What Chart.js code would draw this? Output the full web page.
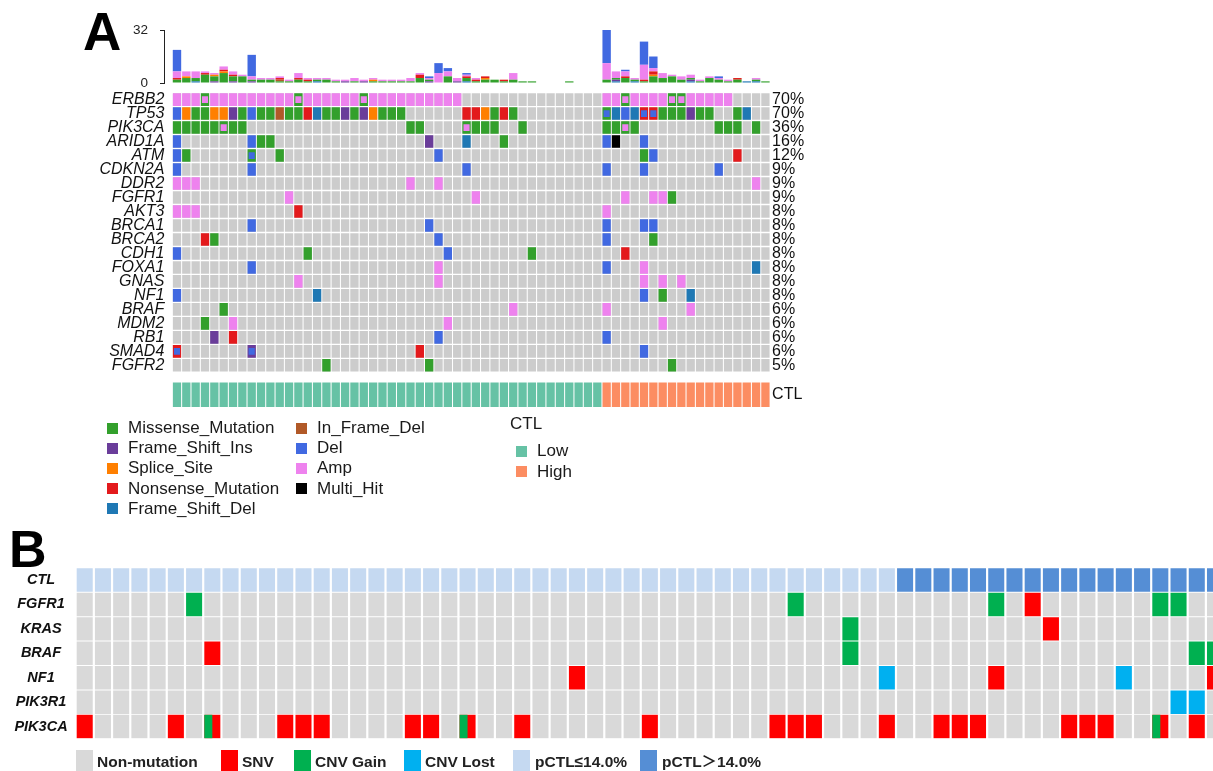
<!DOCTYPE html>
<html><head><meta charset="utf-8">
<script src="https://cdn.jsdelivr.net/npm/chart.js@4.4.1/dist/chart.umd.min.js"></script>
<style>
html,body{margin:0;padding:0;background:#fff;}
body{width:1213px;height:771px;position:relative;overflow:hidden;font-family:"Liberation Sans",Arial,Helvetica,sans-serif;color:#1a1a1a;}
canvas{position:absolute;}
.t{position:absolute;white-space:nowrap;}
.sq{position:absolute;}
</style></head><body>
<div class="t" style="left:83px;top:5px;font-weight:bold;font-size:53px;line-height:53px;color:#000;">A</div>
<div class="t" style="left:9px;top:523px;font-weight:bold;font-size:52px;line-height:52px;color:#000;">B</div>
<canvas id="bar" width="680" height="97" style="left:100px;top:8px;"></canvas>
<canvas id="heatA" width="800" height="350" style="left:40px;top:75px;"></canvas>
<canvas id="heatB" width="1213" height="210" style="left:0px;top:550px;"></canvas>
<div id="legends"></div>
<script>
const FONT = "'Liberation Sans', Arial, Helvetica, sans-serif";
Chart.defaults.font.family = FONT;

// ---------------- Panel A data ----------------
const samplesA = [...Array(64).keys()]; // sample positions
const genesA = ["ERBB2","TP53","PIK3CA","ARID1A","ATM","CDKN2A","DDR2","FGFR1","AKT3","BRCA1",
                "BRCA2","CDH1","FOXA1","GNAS","NF1","BRAF","MDM2","RB1","SMAD4","FGFR2"];
const pctA = ["70%","70%","36%","16%","12%","9%","9%","9%","8%","8%",
              "8%","8%","8%","8%","8%","6%","6%","6%","6%","5%"];
// one char per sample: . none, M Missense, I Frame_Shift_Ins, S Splice_Site, N Nonsense,
// F Frame_Shift_Del, B In_Frame_Del, D Del, A Amp, X Multi_Hit,
// m Missense+Amp, e Missense+Del, n Nonsense+Del, i Frame_Shift_Ins+Del
const mutA = [
  "AAAmAAAAAA"+"AAAmAAAAAA"+"mAAAAAAAAA"+"A........."+"......AAmA"+"AAAmmAAAAA"+"....",
  "DSMMSSIMDM"+"MBMMNFMMIM"+"ISMMM....."+".NNSMNM..."+"......eFDF"+"nnMMMIMM.."+"MF..",
  "MMMMMmMM.."+".........."+".....MM..."+".mMMM..M.."+"......MMmM"+"........MM"+"M.M.",
  "D.......DM"+"M........."+".......I.."+".F...M...."+"......DX.."+"D........."+"....",
  "DM......e."+".M........"+"........D."+".........."+".........."+"MD........"+"N...",
  "D.......D."+".........."+".........."+".D........"+"......D..."+"D.......D."+"....",
  "AAA......."+".........."+".....A..A."+".........."+".........."+".........."+"..A.",
  ".........."+"..A......."+".........."+"..A......."+"........A."+".AAM......"+"....",
  "AAA......."+"...N......"+".........."+".........."+"......A..."+".........."+"....",
  "........D."+".........."+".......D.."+".........."+"......D..."+"DD........"+"....",
  "...NM....."+".........."+"........D."+".........."+"......D..."+".M........"+"....",
  "D........."+"....M....."+".........D"+"........M."+"........N."+".........."+"....",
  "........D."+".........."+"........A."+".........."+"......D..."+"A........."+"..F.",
  ".........."+"...A......"+"........A."+".........."+".........."+"A.A.A....."+"....",
  "D........."+".....F...."+".........."+".........."+".........."+"D.M..F...."+"....",
  ".....M...."+".........."+".........."+"......A..."+"......A..."+".....A...."+"....",
  "...M..A..."+".........."+".........A"+".........."+".........."+"..A......."+"....",
  "....I.N..."+".........."+"........D."+".........."+"......D..."+".........."+"....",
  "n.......i."+".........."+"......N..."+".........."+".........."+"D........."+"....",
  ".........."+"......M..."+".......M.."+".........."+".........."+"...M......"+"...."
];
const ctlA = "LLLLLLLLLL"+"LLLLLLLLLL"+"LLLLLLLLLL"+"LLLLLLLLLL"+"LLLLLLHHHH"+"HHHHHHHHHH"+"HHHH";

// per-sample variant counts (top bar plot)
const tmbFSDel     = [0,0,1,0,0,0,0,0,0,0, 0,0,0,0,0,1,0,0,0,0, 0,0,0,0,0,0,0,0,0,0, 0,1,0,0,0,0,0,0,0,0, 0,0,0,0,0,0,0,1,0,1, 0,0,0,0,0,1,0,0,0,0, 0,1,1,0];
const tmbFSIns     = [0,0,0,0,1,0,1,0,1,0, 0,0,0,0,0,0,0,0,1,0, 1,0,0,0,0,0,0,1,0,0, 1,0,0,0,0,0,0,0,0,0, 0,0,0,0,0,0,0,1,0,0, 0,0,0,0,0,1,0,0,0,0, 0,0,0,0];
const tmbMissense  = [2,3,2,5,3,6,3,4,1,2, 2,1,1,2,1,1,2,1,0,1, 0,1,1,1,1,1,3,1,0,4, 0,2,1,2,2,1,2,1,1,0, 0,0,1,0,0,0,2,1,3,1, 1,4,3,4,2,1,1,3,2,1, 2,0,1,1];
const tmbInFrameDel= [0,0,0,0,0,0,0,0,0,0, 0,1,0,0,0,0,0,0,0,0, 0,0,0,0,0,0,0,0,0,0, 0,0,0,0,0,0,0,0,0,0, 0,0,0,0,0,0,0,0,0,0, 0,0,0,0,0,0,0,0,0,0, 0,0,0,0];
const tmbSplice    = [0,1,0,0,1,1,0,0,0,0, 0,0,0,0,0,0,0,0,0,0, 0,1,0,0,0,0,0,0,0,0, 0,0,0,1,0,0,0,0,0,0, 0,0,0,0,0,0,0,0,0,0, 0,1,0,0,0,0,0,0,0,0, 0,0,0,0];
const tmbNonsense  = [1,0,0,1,0,1,1,0,0,0, 0,1,0,1,1,0,0,0,0,0, 0,0,0,0,0,0,2,0,0,0, 0,1,1,1,0,1,0,0,0,0, 0,0,0,0,0,0,0,0,1,0, 1,2,0,0,0,0,0,0,0,0, 1,0,0,0];
const tmbAmp       = [4,3,4,1,1,2,2,1,2,1, 1,1,1,3,1,1,1,1,1,2, 1,1,1,1,1,2,1,1,6,3, 2,1,1,0,0,0,4,0,0,0, 0,0,0,0,0,0,10,4,3,1, 9,2,3,1,2,2,1,1,1,1, 0,0,1,0];
const tmbDel       = [13,0,0,0,0,0,0,0,13,0, 0,0,0,0,0,0,0,0,0,0, 0,0,0,0,0,0,0,1,6,2, 0,1,0,0,0,0,0,0,0,0, 0,0,0,0,0,0,20,0,1,0, 14,7,0,0,0,0,0,0,1,0, 0,0,0,0];
const tmbTicks = [0, 32];

const colorA = {Missense:'#33A02C', FSIns:'#6A3D9A', Splice:'#FF7F00', Nonsense:'#E31A1C',
  FSDel:'#1F78B4', InFrameDel:'#B15928', Del:'#4169E1', Amp:'#EE82EE', MultiHit:'#000000'};
const codeA = {M:['Missense'], I:['FSIns'], S:['Splice'], N:['Nonsense'], F:['FSDel'], B:['InFrameDel'],
  D:['Del'], A:['Amp'], X:['MultiHit'], m:['Missense','Amp'], e:['Missense','Del'], n:['Nonsense','Del'], i:['FSIns','Del']};
const ctlColorA = {L:'#66C2A5', H:'#FC8D62'};

// ---------------- Panel B data ----------------
const samplesB = [...Array(63).keys()];
const rowsB = ["CTL","FGFR1","KRAS","BRAF","NF1","PIK3R1","PIK3CA"];
const ctlB = "LLLLLLLLLL"+"LLLLLLLLLL"+"LLLLLLLLLL"+"LLLLLLLLLL"+"LLLLLHHHHH"+"HHHHHHHHHH"+"HHH";
// . none, S SNV, G CNV Gain, L CNV Lost, C CNV Gain + SNV
const mutB = [
  "......G..."+".........."+".........."+".........G"+".........."+"G.S......G"+"G..",
  ".........."+".........."+".........."+".........."+"..G......."+"...S......"+"...",
  ".......S.."+".........."+".........."+".........."+"..G......."+".........."+".GG",
  ".........."+".........."+".......S.."+".........."+"....L....."+"S......L.."+"..S",
  ".........."+".........."+".........."+".........."+".........."+".........."+"LL.",
  "S....S.C.."+".SSS....SS"+".C..S....."+".S......SS"+"S...S..SSS"+"....SSS..C"+".S."
];
const colorB = {none:'#D9D9D9', SNV:'#FF0000', Gain:'#00B050', Lost:'#00B0F0', ctlLow:'#C5D9F1', ctlHigh:'#558ED5'};

// ---------------- common ----------------
const base = {animation:false, responsive:false, events:[], plugins:{legend:{display:false}, tooltip:{enabled:false}}};
const intTicks = arr => (s => { s.ticks = arr.map(v => ({value:v})); });

// ---------------- Chart 1: bar plot ----------------
const tmbSeries = [
  ['FSDel', tmbFSDel], ['FSIns', tmbFSIns], ['Missense', tmbMissense], ['InFrameDel', tmbInFrameDel],
  ['Splice', tmbSplice], ['Nonsense', tmbNonsense], ['Amp', tmbAmp], ['Del', tmbDel]
];
new Chart(document.getElementById('bar'), {
  type:'bar',
  data:{datasets: tmbSeries.map(([cls, arr]) => ({
    label: cls, backgroundColor: colorA[cls],
    data: samplesA.filter(i => arr[i] > 0).map(i => ({x:i, y:arr[i]}))
  }))},
  options:Object.assign({}, base, {
    layout:{padding:{top:22, bottom:22, right:9.9, left:0}},
    datasets:{bar:{barPercentage:0.9, categoryPercentage:1}},
    scales:{
      x:{type:'linear', offset:false, stacked:true, min:-1.39, max:63.5, display:false, afterBuildTicks:intTicks(samplesA)},
      y:{type:'linear', stacked:true, min:0, max:32, afterBuildTicks:intTicks(tmbTicks),
         afterFit:s=>{s.width=64;},
         grid:{display:true, drawOnChartArea:false, drawTicks:true, tickLength:4, color:'#222', lineWidth:1},
         border:{display:true, color:'#222', width:1},
         ticks:{font:{size:13.5}, color:'#222', padding:12, autoSkip:false}}
    }
  })
});

// ---------------- Chart 2: heatmap A ----------------
const cellA = (x, r, h) => ({x:x, y:[r - h, r + h]});
const dsA = [];
const bgA = [];
genesA.forEach((g, r) => samplesA.forEach(c => bgA.push(cellA(c, r, 0.45))));
dsA.push({data:bgA, backgroundColor:'#CCCCCC', order:3});
Object.keys(colorA).forEach(cls => {
  const outer = [], inner = [];
  mutA.forEach((s, r) => {
    for (let c = 0; c < s.length; c++) {
      const k = codeA[s[c]];
      if (!k) continue;
      if (k[0] === cls) outer.push(cellA(c, r, 0.45));
      if (k[1] === cls) inner.push(cellA(c, r, 0.24));
    }
  });
  if (outer.length) dsA.push({data:outer, backgroundColor:colorA[cls], order:2});
  if (inner.length) dsA.push({data:inner, backgroundColor:colorA[cls], order:1, barPercentage:0.66});
});
const ctlRowA = [20.22, 21.98];
['L','H'].forEach(k => {
  const d = [];
  for (let c = 0; c < ctlA.length; c++) if (ctlA[c] === k) d.push({x:c, y:ctlRowA.slice()});
  dsA.push({data:d, backgroundColor:ctlColorA[k], order:2});
});
const ctlLabelPosA = 21.1;
new Chart(document.getElementById('heatA'), {
  type:'bar',
  data:{datasets:dsA},
  options:Object.assign({}, base, {
    layout:{padding:{top:17, bottom:18, left:0, right:0}},
    datasets:{bar:{grouped:false, barPercentage:0.89, categoryPercentage:1}},
    scales:{
      x:{type:'linear', offset:false, min:-0.5, max:63.5, display:false, afterBuildTicks:intTicks(samplesA)},
      y:{type:'linear', reverse:true, min:-0.5, max:21.98, afterBuildTicks:intTicks(genesA.map((g,i)=>i)),
         afterFit:s=>{s.width=132.3;},
         grid:{display:false, drawTicks:false}, border:{display:false},
         ticks:{autoSkip:false, padding:8, color:'#111', font:{size:16, style:'italic'}, callback:v=>genesA[v]}},
      yr:{type:'linear', position:'right', reverse:true, min:-0.5, max:21.98,
         afterBuildTicks:intTicks(pctA.map((p,i)=>i).concat([ctlLabelPosA])),
         afterFit:s=>{s.width=69.9;},
         grid:{display:false, drawTicks:false}, border:{display:false},
         ticks:{autoSkip:false, padding:2, color:'#111', font:{size:16}, callback:(v,idx)=> idx < pctA.length ? pctA[idx] : 'CTL'}}
    }
  })
});

// ---------------- Chart 3: heatmap B ----------------
const cellB = (x, r) => ({x:x, y:[r - 0.48, r + 0.48]});
const dsB = [];
const gB = {none:[], SNV:[], Gain:[], Lost:[], split:[], ctlLow:[], ctlHigh:[]};
for (let c = 0; c < ctlB.length; c++) (ctlB[c] === 'L' ? gB.ctlLow : gB.ctlHigh).push(cellB(c, 0));
mutB.forEach((s, i) => {
  const r = i + 1;
  for (let c = 0; c < s.length; c++) {
    const ch = s[c];
    if (ch === '.') gB.none.push(cellB(c, r));
    else if (ch === 'S') gB.SNV.push(cellB(c, r));
    else if (ch === 'G') gB.Gain.push(cellB(c, r));
    else if (ch === 'L') gB.Lost.push(cellB(c, r));
    else if (ch === 'C') { gB.SNV.push(cellB(c, r)); gB.split.push({x:c - 0.22, y:[r - 0.48, r + 0.48]}); }
  }
});
dsB.push({data:gB.none, backgroundColor:colorB.none, order:2});
dsB.push({data:gB.ctlLow, backgroundColor:colorB.ctlLow, order:2});
dsB.push({data:gB.ctlHigh, backgroundColor:colorB.ctlHigh, order:2});
dsB.push({data:gB.SNV, backgroundColor:colorB.SNV, order:2});
dsB.push({data:gB.Gain, backgroundColor:colorB.Gain, order:2});
dsB.push({data:gB.Lost, backgroundColor:colorB.Lost, order:2});
dsB.push({data:gB.split, backgroundColor:colorB.Gain, order:1, xAxisID:'x2', barPercentage:0.44});
new Chart(document.getElementById('heatB'), {
  type:'bar',
  data:{datasets:dsB},
  options:Object.assign({}, base, {
    layout:{padding:{top:17.8, bottom:21.2, left:0, right:0}},
    datasets:{bar:{grouped:false, barPercentage:0.88, categoryPercentage:1}},
    scales:{
      x:{type:'linear', offset:false, min:-0.5, max:61.89, display:false, afterBuildTicks:intTicks(samplesB)},
      x2:{type:'linear', offset:false, min:-0.5, max:61.89, display:false, afterBuildTicks:intTicks(samplesB)},
      y:{type:'linear', reverse:true, min:-0.5, max:6.5, afterBuildTicks:intTicks(rowsB.map((g,i)=>i)),
         afterFit:s=>{s.width=75.6;},
         grid:{display:false, drawTicks:false}, border:{display:false},
         ticks:{autoSkip:false, crossAlign:'center', padding:8, color:'#111', font:{size:14.5, weight:'bold', style:'italic'}, callback:v=>rowsB[v]}}
    }
  })
});

// ---------------- Legends (HTML text) ----------------
const legendAcol1 = [['Missense_Mutation','Missense'],['Frame_Shift_Ins','FSIns'],['Splice_Site','Splice'],['Nonsense_Mutation','Nonsense'],['Frame_Shift_Del','FSDel']];
const legendAcol2 = [['In_Frame_Del','InFrameDel'],['Del','Del'],['Amp','Amp'],['Multi_Hit','MultiHit']];
const legendCtl = [['Low','L'],['High','H']];
const legendB = [['Non-mutation',colorB.none],['SNV',colorB.SNV],['CNV Gain',colorB.Gain],['CNV Lost',colorB.Lost],['pCTL≤14.0%',colorB.ctlLow],['pCTL＞14.0%',colorB.ctlHigh]];
const L = document.getElementById('legends');
function add(html){ L.insertAdjacentHTML('beforeend', html); }
function itemA(x, cy, label, color){
  add(`<div class="sq" style="left:${x}px;top:${cy-5.5}px;width:11px;height:11px;background:${color}"></div>`);
  add(`<div class="t" style="left:${x+21}px;top:${cy-10}px;font-size:17px;line-height:20px;">${label}</div>`);
}
legendAcol1.forEach((it,i)=>itemA(107, 428 + i*20.2, it[0], colorA[it[1]]));
legendAcol2.forEach((it,i)=>itemA(296, 428 + i*20.2, it[0], colorA[it[1]]));
add(`<div class="t" style="left:510px;top:414px;font-size:17px;line-height:20px;">CTL</div>`);
legendCtl.forEach((it,i)=>itemA(516, 451 + i*20.5, it[0], ctlColorA[it[1]]));
const legBx = [[76,97],[221,242],[294,315],[404,425],[513,535],[640,662]];
legendB.forEach((it,i)=>{
  add(`<div class="sq" style="left:${legBx[i][0]}px;top:750px;width:17px;height:24px;background:${it[1]}"></div>`);
  add(`<div class="t" style="left:${legBx[i][1]}px;top:752px;font-size:15.5px;line-height:20px;font-weight:bold;color:#222;font-family:'Liberation Sans','Noto Sans CJK SC',sans-serif;">${it[0]}</div>`);
});
</script>
</body></html>
